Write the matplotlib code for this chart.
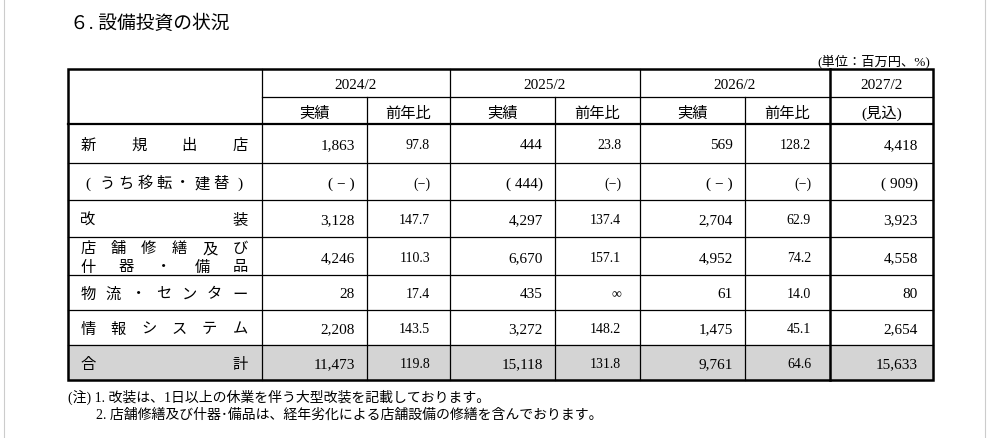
import matplotlib.pyplot as plt
from matplotlib.patches import Rectangle

plt.rcParams['font.family'] = ['Liberation Serif', 'Noto Sans CJK JP', 'DejaVu Sans']

# ==================== データ ====================
years = ['2024/2', '2025/2', '2026/2', '2027/2']
sub_headers = ['実績', '前年比', '実績', '前年比', '実績', '前年比', '(見込)']
row_labels = [['新規出店'], ['(うち移転・建替)'], ['改装'], ['店舗修繕及び', '什器・備品'],
              ['物流・センター'], ['情報システム'], ['合計']]
actual_2024 = ['1,863', '( − )', '3,128', '4,246', '28', '2,208', '11,473']
yoy_2024 = ['97.8', '(−)', '147.7', '110.3', '17.4', '143.5', '119.8']
actual_2025 = ['444', '( 444)', '4,297', '6,670', '435', '3,272', '15,118']
yoy_2025 = ['23.8', '(−)', '137.4', '157.1', '∞', '148.2', '131.8']
actual_2026 = ['569', '( − )', '2,704', '4,952', '61', '1,475', '9,761']
yoy_2026 = ['128.2', '(−)', '62.9', '74.2', '14.0', '45.1', '64.6']
plan_2027 = ['4,418', '( 909)', '3,923', '4,558', '80', '2,654', '15,633']

# ==================== レイアウト ====================
W, H = 988, 439
fig = plt.figure(figsize=(W / 100, H / 100), dpi=100)
ax = fig.add_axes([0, 0, 1, 1])
ax.set_xlim(0, W)
ax.set_ylim(H, 0)
ax.axis('off')

L, R, T, B = 68, 933, 70, 381
col_x = [262, 367, 450, 555, 640, 745, 830, R]
row_y = [T, 98, 125, 164, 201, 238, 276, 311, 346, B]
VA = 'center_baseline'

# 合計行の背景
ax.add_patch(Rectangle((L, row_y[-2]), R - L, B - row_y[-2], color='#d4d4d4', zorder=0))

# 罫線
for y in row_y[1:-1]:
    lw = 1.6 if y == 125 else 0.9
    if y == 98:
        for a, b in [(col_x[0], col_x[2]), (col_x[2], col_x[4]), (col_x[4], col_x[6]), (col_x[6], R)]:
            ax.plot([a, b], [y, y], color='black', lw=0.9)
    else:
        ax.plot([L, R], [y, y], color='black', lw=lw)
for i, x in enumerate(col_x[:-1]):
    y0 = row_y[1] if i in (1, 3, 5) else T
    lw = 1.8 if x == 830 else 0.9
    ax.plot([x, x], [y0, B], color='black', lw=lw)
ax.add_patch(Rectangle((L, T), R - L, B - T, fill=False, lw=1.8, ec='black'))
ax.plot([4, 4], [0, H], color='#cccccc', lw=0.8)
ax.plot([985, 985], [0, H], color='#cccccc', lw=0.8)

fs = 11
# ヘッダ
spans = [(col_x[0], col_x[2]), (col_x[2], col_x[4]), (col_x[4], col_x[6]), (col_x[6], R)]
for yr, (a, b) in zip(years, spans):
    ax.text((a + b) / 2, 84, yr, ha='center', va=VA, fontsize=fs)
for i, s in enumerate(sub_headers):
    ax.text((col_x[i] + col_x[i + 1]) / 2, 112, s, ha='center', va=VA, fontsize=fs)


def spread(text, y, x0=88, x1=240):
    n = len(text)
    for k, ch in enumerate(text):
        ax.text(x0 + (x1 - x0) * k / (n - 1), y, ch, ha='center', va=VA, fontsize=fs)


for r, lab in enumerate(row_labels):
    yc = (row_y[r + 2] + row_y[r + 3]) / 2
    if len(lab) == 1:
        spread(lab[0], yc)
    else:
        spread(lab[0], yc - 9)
        spread(lab[1], yc + 9)

cols = [(actual_2024, 355, fs), (yoy_2024, 430, 10), (actual_2025, 543, fs), (yoy_2025, 621, 10),
        (actual_2026, 733, fs), (yoy_2026, 811, 10), (plan_2027, 918, fs)]
for vals, xr, f in cols:
    for r, v in enumerate(vals):
        yc = (row_y[r + 2] + row_y[r + 3]) / 2
        ax.text(xr, yc, v, ha='right', va=VA, fontsize=f)

# タイトル・注記
ax.text(70, 22, '６. 設備投資の状況', ha='left', va=VA, fontsize=13.5)
ax.text(930, 60, '(単位：百万円、%)', ha='right', va=VA, fontsize=9.5)
ax.text(68, 396, '(注) 1. 改装は、1日以上の休業を伴う大型改装を記載しております。', ha='left', va=VA, fontsize=10)
ax.text(96, 414, '2. 店舗修繕及び什器･備品は、経年劣化による店舗設備の修繕を含んでおります。', ha='left', va=VA, fontsize=10)

fig.savefig('out.png', dpi=100)
